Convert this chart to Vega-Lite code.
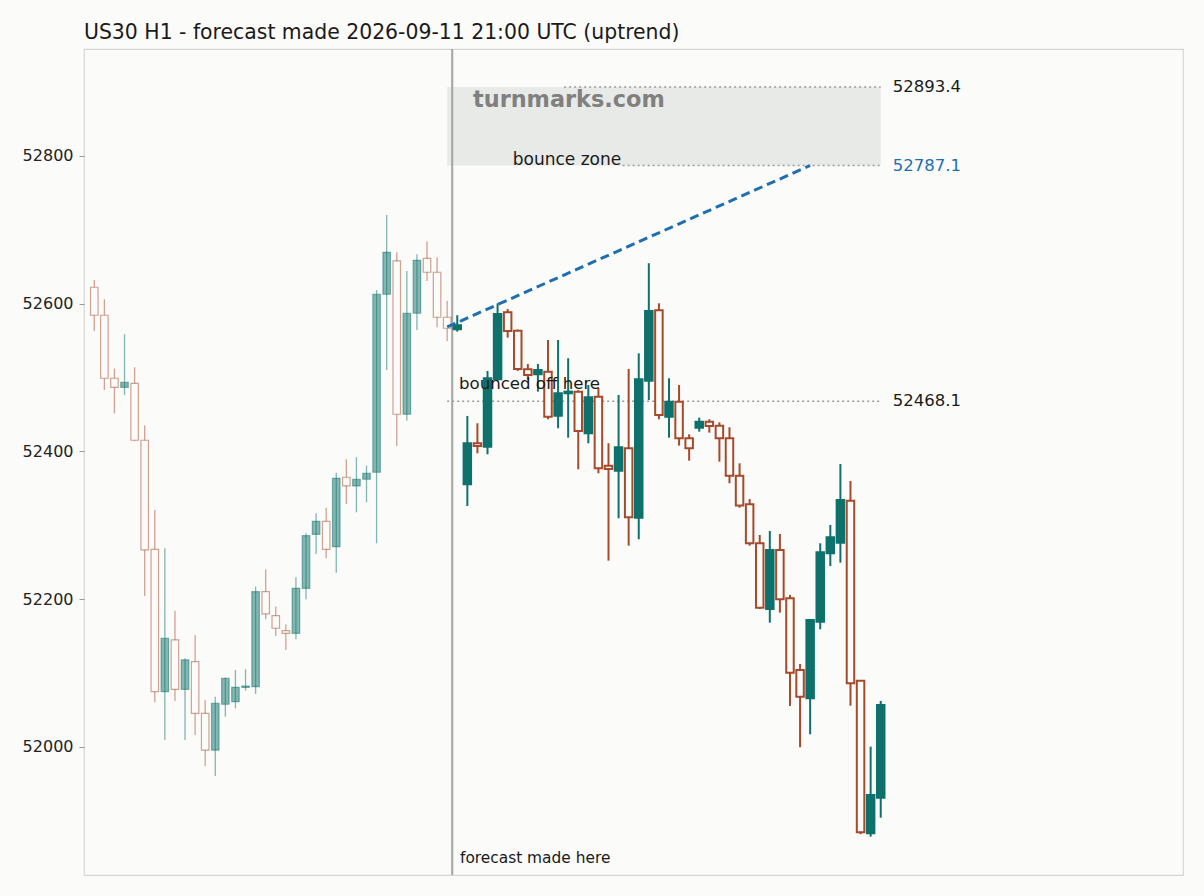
{
  "$schema": "https://vega.github.io/schema/vega-lite/v6.json",
  "autosize": {"type": "none"},
  "width": 1099,
  "height": 826,
  "padding": {"left": 84, "top": 49, "right": 21, "bottom": 21},
  "background": "#fbfbf9",
  "title": {"text": "US30 H1 - forecast made 2026-09-11 21:00 UTC (uptrend)", "anchor": "start", "frame": "group", "font": "DejaVu Sans", "fontSize": 20.4, "fontWeight": "normal", "color": "#1a1a1a", "offset": 5},
  "config": {
    "view": {"stroke": "#d6d6d6", "strokeWidth": 1.2},
    "font": "DejaVu Sans"
  },
  "datasets": {
    "candles": [
      {"i":0,"o":52622.3,"h":52632.2,"l":52563.1,"c":52584.4},
      {"i":1,"o":52584.4,"h":52606.0,"l":52483.3,"c":52499.1},
      {"i":2,"o":52499.1,"h":52512.1,"l":52451.7,"c":52486.9},
      {"i":3,"o":52486.9,"h":52558.7,"l":52476.5,"c":52493.7},
      {"i":4,"o":52492.3,"h":52514.0,"l":52414.0,"c":52415.2},
      {"i":5,"o":52415.2,"h":52435.5,"l":52204.4,"c":52266.7},
      {"i":6,"o":52267.6,"h":52320.8,"l":52060.5,"c":52074.9},
      {"i":7,"o":52074.9,"h":52269.0,"l":52009.5,"c":52147.2},
      {"i":8,"o":52144.9,"h":52184.5,"l":52062.3,"c":52078.1},
      {"i":9,"o":52078.1,"h":52120.1,"l":52009.5,"c":52117.8},
      {"i":10,"o":52115.5,"h":52151.6,"l":52016.3,"c":52045.6},
      {"i":11,"o":52045.6,"h":52063.6,"l":51974.3,"c":51995.8},
      {"i":12,"o":51995.8,"h":52068.1,"l":51960.8,"c":52059.2},
      {"i":13,"o":52057.8,"h":52094.0,"l":52041.0,"c":52093.0},
      {"i":14,"o":52061.3,"h":52104.2,"l":52052.4,"c":52080.8},
      {"i":15,"o":52080.5,"h":52105.2,"l":52076.3,"c":52082.5},
      {"i":16,"o":52081.6,"h":52217.0,"l":52071.8,"c":52210.2},
      {"i":17,"o":52210.2,"h":52240.6,"l":52172.9,"c":52180.1},
      {"i":18,"o":52177.7,"h":52190.0,"l":52150.3,"c":52160.7},
      {"i":19,"o":52157.5,"h":52166.1,"l":52131.1,"c":52153.9},
      {"i":20,"o":52153.9,"h":52229.7,"l":52145.8,"c":52214.8},
      {"i":21,"o":52214.8,"h":52289.3,"l":52200.0,"c":52286.0},
      {"i":22,"o":52287.9,"h":52316.4,"l":52261.3,"c":52305.5},
      {"i":23,"o":52305.5,"h":52323.9,"l":52255.5,"c":52267.6},
      {"i":24,"o":52271.1,"h":52371.3,"l":52236.0,"c":52363.7},
      {"i":25,"o":52365.1,"h":52389.5,"l":52328.9,"c":52353.3},
      {"i":26,"o":52353.3,"h":52392.2,"l":52317.7,"c":52362.4},
      {"i":27,"o":52362.4,"h":52380.8,"l":52331.3,"c":52370.5},
      {"i":28,"o":52371.9,"h":52618.6,"l":52275.7,"c":52612.8},
      {"i":29,"o":52612.8,"h":52720.1,"l":52510.3,"c":52669.6},
      {"i":30,"o":52657.9,"h":52669.6,"l":52407.5,"c":52450.4},
      {"i":31,"o":52450.4,"h":52644.3,"l":52441.7,"c":52587.1},
      {"i":32,"o":52587.1,"h":52666.9,"l":52564.5,"c":52658.8},
      {"i":33,"o":52661.5,"h":52684.5,"l":52630.8,"c":52642.6},
      {"i":34,"o":52642.6,"h":52662.9,"l":52568.1,"c":52581.7},
      {"i":35,"o":52581.7,"h":52604.1,"l":52549.2,"c":52566.8},
      {"i":36,"o":52565.4,"h":52584.4,"l":52562.2,"c":52570.8},
      {"i":37,"o":52355.6,"h":52448.1,"l":52326.2,"c":52411.1},
      {"i":38,"o":52411.1,"h":52438.2,"l":52397.6,"c":52407.5},
      {"i":39,"o":52406.5,"h":52509.0,"l":52396.2,"c":52499.1},
      {"i":40,"o":52497.7,"h":52600.6,"l":52495.0,"c":52586.1},
      {"i":41,"o":52588.4,"h":52592.9,"l":52554.1,"c":52563.1},
      {"i":42,"o":52563.5,"h":52565.0,"l":52509.0,"c":52511.7},
      {"i":43,"o":52511.3,"h":52518.5,"l":52496.8,"c":52503.6},
      {"i":44,"o":52504.5,"h":52518.5,"l":52481.0,"c":52510.3},
      {"i":45,"o":52508.0,"h":52550.9,"l":52443.6,"c":52447.1},
      {"i":46,"o":52448.5,"h":52550.9,"l":52431.4,"c":52478.8},
      {"i":47,"o":52478.8,"h":52526.2,"l":52418.7,"c":52481.0},
      {"i":48,"o":52481.0,"h":52483.0,"l":52375.9,"c":52427.8},
      {"i":49,"o":52424.6,"h":52490.0,"l":52411.1,"c":52473.4},
      {"i":50,"o":52474.2,"h":52486.0,"l":52370.5,"c":52377.3},
      {"i":51,"o":52380.8,"h":52411.1,"l":52252.2,"c":52376.3},
      {"i":52,"o":52374.0,"h":52476.5,"l":52309.6,"c":52405.7},
      {"i":53,"o":52404.3,"h":52511.7,"l":52272.5,"c":52310.9},
      {"i":54,"o":52310.4,"h":52532.9,"l":52281.2,"c":52497.7},
      {"i":55,"o":52495.8,"h":52654.8,"l":52469.7,"c":52590.2},
      {"i":56,"o":52591.1,"h":52600.6,"l":52443.6,"c":52449.4},
      {"i":57,"o":52447.1,"h":52499.1,"l":52418.7,"c":52467.4},
      {"i":58,"o":52467.4,"h":52490.0,"l":52407.9,"c":52417.9},
      {"i":59,"o":52417.9,"h":52423.3,"l":52387.6,"c":52404.3},
      {"i":60,"o":52432.2,"h":52445.8,"l":52426.8,"c":52440.4},
      {"i":61,"o":52440.4,"h":52443.6,"l":52425.5,"c":52434.5},
      {"i":62,"o":52434.9,"h":52439.5,"l":52386.2,"c":52417.9},
      {"i":63,"o":52417.9,"h":52432.8,"l":52357.0,"c":52367.3},
      {"i":64,"o":52367.3,"h":52384.0,"l":52323.9,"c":52326.7},
      {"i":65,"o":52328.5,"h":52335.7,"l":52272.5,"c":52275.7},
      {"i":66,"o":52275.7,"h":52286.9,"l":52186.8,"c":52188.6},
      {"i":67,"o":52186.8,"h":52292.4,"l":52168.3,"c":52266.7},
      {"i":68,"o":52266.7,"h":52288.3,"l":52181.8,"c":52200.0},
      {"i":69,"o":52201.3,"h":52205.8,"l":52055.5,"c":52100.6},
      {"i":70,"o":52104.2,"h":52112.4,"l":51999.6,"c":52068.1},
      {"i":71,"o":52065.9,"h":52172.5,"l":52017.2,"c":52171.9},
      {"i":72,"o":52169.6,"h":52275.7,"l":52159.3,"c":52263.6},
      {"i":73,"o":52262.2,"h":52300.5,"l":52245.0,"c":52283.9},
      {"i":74,"o":52276.6,"h":52383.1,"l":52249.5,"c":52334.4},
      {"i":75,"o":52333.4,"h":52360.1,"l":52055.9,"c":52086.2},
      {"i":76,"o":52089.8,"h":52090.5,"l":51881.9,"c":51884.6},
      {"i":77,"o":51883.2,"h":52000.4,"l":51878.6,"c":51934.9},
      {"i":78,"o":51931.4,"h":52062.3,"l":51904.3,"c":52056.9}
    ],
    "zone": [{"i1":35,"i2":78,"lo":52787.1,"hi":52893.4}],
    "levels": [
      {"i1":46.6,"i2":78,"p":52893.4},
      {"i1":52.4,"i2":78,"p":52787.1},
      {"i1":35,"i2":78,"p":52468.1}
    ],
    "trend": [{"i":35,"p":52568.5},{"i":71,"p":52787.1}]
  },
  "encoding": {
    "x": {"type": "quantitative", "scale": {"domain": [-1.02, 107.98], "nice": false, "zero": false, "padding": 0}, "axis": null},
    "y": {"type": "quantitative", "scale": {"domain": [51826.7, 52944.8], "nice": false, "zero": false, "padding": 0},
      "axis": {"title": null, "values": [52000, 52200, 52400, 52600, 52800], "format": "d", "grid": false, "domain": false, "tickSize": 5, "tickColor": "#9a9a9a", "labelFontSize": 16, "labelColor": "#222222", "labelPadding": 6, "labelFont": "DejaVu Sans"}}
  },
  "layer": [
    {
      "data": {"name": "zone"},
      "mark": {"type": "rect", "fill": "#e8eae8"},
      "encoding": {"x": {"field": "i1", "type": "quantitative"}, "x2": {"field": "i2"}, "y": {"field": "lo", "type": "quantitative"}, "y2": {"field": "hi"}}
    },
    {
      "data": {"name": "levels"},
      "mark": {"type": "rule", "color": "#9a9a9a", "strokeWidth": 1.5, "strokeDash": [2, 3]},
      "encoding": {"x": {"field": "i1", "type": "quantitative"}, "x2": {"field": "i2"}, "y": {"field": "p", "type": "quantitative"}}
    },
    {
      "data": {"name": "levels"},
      "mark": {"type": "text", "align": "left", "baseline": "middle", "dx": 12, "fontSize": 16.5, "font": "DejaVu Sans"},
      "encoding": {
        "x": {"field": "i2", "type": "quantitative"},
        "y": {"field": "p", "type": "quantitative"},
        "text": {"field": "p", "type": "quantitative", "format": ".1f"},
        "color": {"condition": {"test": "datum.p == 52787.1", "value": "#1f6fb0"}, "value": "#1a1a1a"}
      }
    },
    {
      "data": {"values": [{}]},
      "mark": {"type": "rule", "color": "#a2a5a2", "strokeWidth": 2},
      "encoding": {"x": {"datum": 35.5, "type": "quantitative"}, "y": null}
    },
    {
      "data": {"name": "candles"},
      "mark": {"type": "rule"},
      "encoding": {
        "x": {"field": "i", "type": "quantitative"},
        "y": {"field": "l", "type": "quantitative"},
        "y2": {"field": "h"},
        "color": {"condition": {"test": "datum.c >= datum.o", "value": "#0e716b"}, "value": "#a64a2b"},
        "opacity": {"condition": {"test": "datum.i < 35.5", "value": 0.5}, "value": 1},
        "strokeWidth": {"condition": {"test": "datum.i < 35.5", "value": 1.3}, "value": 2}
      }
    },
    {
      "data": {"name": "candles"},
      "mark": {"type": "bar", "size": 7.5},
      "encoding": {
        "x": {"field": "i", "type": "quantitative"},
        "y": {"field": "o", "type": "quantitative"},
        "y2": {"field": "c"},
        "fill": {"condition": {"test": "datum.c >= datum.o", "value": "#0e716b"}, "value": "#fbfbf9"},
        "stroke": {"condition": {"test": "datum.c >= datum.o", "value": "#0e716b"}, "value": "#a64a2b"},
        "fillOpacity": {"condition": [{"test": "datum.c < datum.o", "value": 1}, {"test": "datum.i < 35.5", "value": 0.5}], "value": 1},
        "strokeOpacity": {"condition": {"test": "datum.i < 35.5", "value": 0.5}, "value": 1},
        "strokeWidth": {"condition": {"test": "datum.i < 35.5", "value": 1.2}, "value": 2}
      }
    },
    {
      "data": {"name": "trend"},
      "mark": {"type": "line", "color": "#1f6fb0", "strokeWidth": 3, "strokeDash": [9, 5]},
      "encoding": {"x": {"field": "i", "type": "quantitative"}, "y": {"field": "p", "type": "quantitative"}}
    },
    {
      "data": {"values": [{}]},
      "mark": {"type": "text", "text": "turnmarks.com", "align": "left", "baseline": "middle", "fontSize": 22.4, "fontWeight": "bold", "color": "#808080", "font": "DejaVu Sans"},
      "encoding": {"x": {"datum": 37.56, "type": "quantitative"}, "y": {"datum": 52875.8, "type": "quantitative"}}
    },
    {
      "data": {"values": [{}]},
      "mark": {"type": "text", "text": "bounce zone", "align": "left", "baseline": "middle", "fontSize": 17, "color": "#1a1a1a", "font": "DejaVu Sans"},
      "encoding": {"x": {"datum": 41.5, "type": "quantitative"}, "y": {"datum": 52794.6, "type": "quantitative"}}
    },
    {
      "data": {"values": [{}]},
      "mark": {"type": "text", "text": "bounced off here", "align": "left", "baseline": "middle", "fontSize": 16.6, "color": "#1a1a1a", "font": "DejaVu Sans"},
      "encoding": {"x": {"datum": 36.17, "type": "quantitative"}, "y": {"datum": 52491.4, "type": "quantitative"}}
    },
    {
      "data": {"values": [{}]},
      "mark": {"type": "text", "text": "forecast made here", "align": "left", "baseline": "middle", "fontSize": 15.4, "color": "#1a1a1a", "font": "DejaVu Sans"},
      "encoding": {"x": {"datum": 36.27, "type": "quantitative"}, "y": {"datum": 51849.8, "type": "quantitative"}}
    }
  ]
}
